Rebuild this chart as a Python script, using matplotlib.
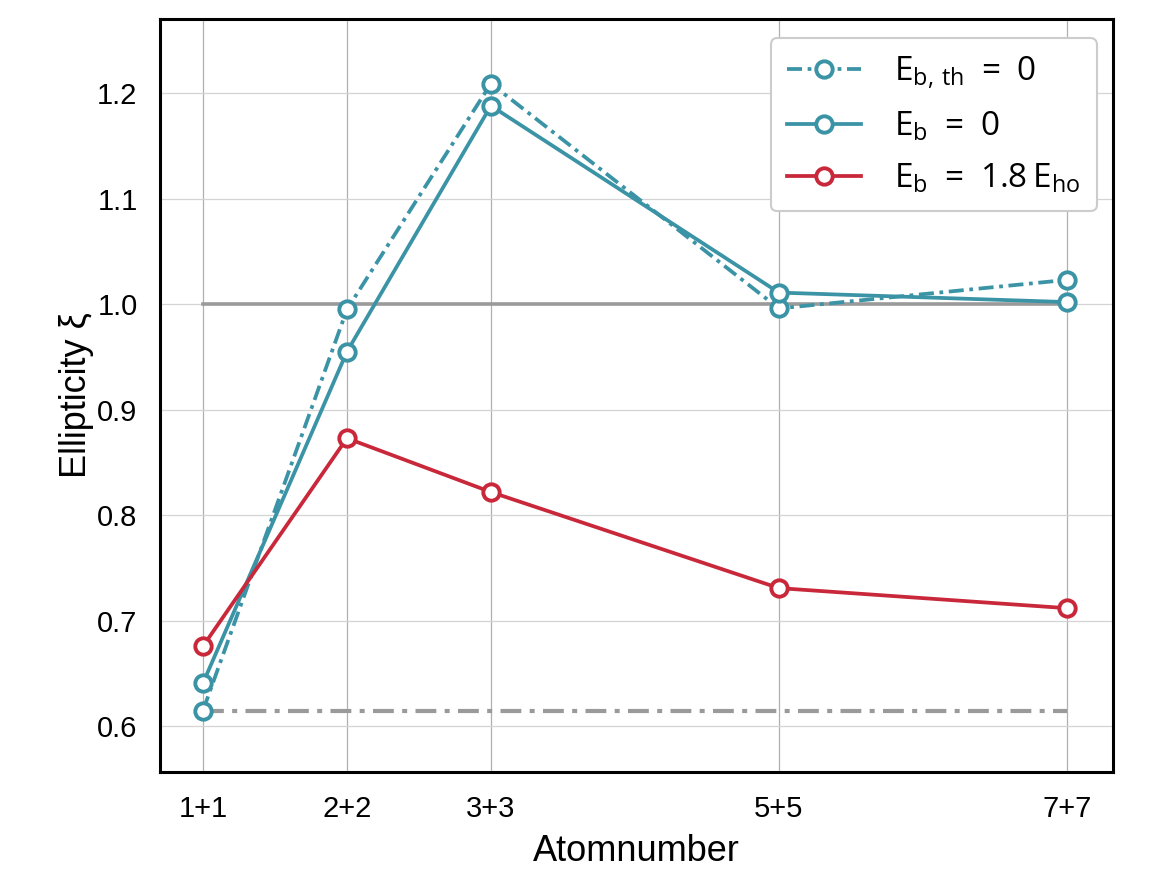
import matplotlib
matplotlib.use('Agg')
import matplotlib.pyplot as plt

# atom numbers (per spin component) and tick labels
atoms = [1, 2, 3, 5, 7]
tick_labels = ['1+1', '2+2', '3+3', '5+5', '7+7']

# ellipticity for each case
xi_th = [0.615, 0.995, 1.209, 0.996, 1.023]
xi_eb0 = [0.641, 0.955, 1.188, 1.011, 1.002]
xi_eb18 = [0.676, 0.873, 0.822, 0.731, 0.712]

# reference levels
xi_iso = 1.0
xi_limit = 0.615

teal = '#3b93a6'
red = '#c9283a'
gray = '#9a9a9a'

plt.rcParams['font.family'] = ['Liberation Sans', 'DejaVu Sans']
plt.rcParams['mathtext.fontset'] = 'custom'
plt.rcParams['mathtext.rm'] = 'Open Sans'
plt.rcParams['mathtext.it'] = 'Open Sans'

fig = plt.figure(figsize=(11.58, 8.74), dpi=100)
ax = fig.add_axes([0.138, 0.117, 0.823, 0.861])

ax.plot([atoms[0], atoms[-1]], [xi_iso, xi_iso], color=gray, lw=2.6, zorder=2)
ax.plot([atoms[0], atoms[-1]], [xi_limit, xi_limit], color=gray, lw=3.0,
        linestyle=(0, (5, 2, 1.2, 2)), zorder=2)

mk = dict(marker='o', markersize=11.8, markerfacecolor='white', markeredgewidth=2.8, zorder=3)
ax.plot(atoms, xi_th, color=teal, lw=2.7, linestyle=(0, (4, 1.5, 1, 1.5)),
        label=r'$\mathrm{E_{b,\,th}\ =\ 0}$', **mk)
ax.plot(atoms, xi_eb0, color=teal, lw=2.7, linestyle='-',
        label=r'$\mathrm{E_{b}\ =\ 0}$', **mk)
ax.plot(atoms, xi_eb18, color=red, lw=2.7, linestyle='-',
        label=r'$\mathrm{E_{b}\ =\ 1.8\,E_{ho}}$', **mk)

ax.set_xlim(0.7, 7.32)
ax.set_ylim(0.557, 1.27)
ax.set_xticks(atoms)
ax.set_xticklabels(tick_labels)
ax.set_yticks([0.6, 0.7, 0.8, 0.9, 1.0, 1.1, 1.2])
ax.tick_params(labelsize=21, length=0)
ax.tick_params(axis='x', pad=17)
ax.tick_params(axis='y', pad=16)

ax.grid(True, axis='x', color='#b0b0b0', lw=0.9)
ax.grid(True, axis='y', color='#d4d4d4', lw=0.9)
ax.set_axisbelow(True)
for s in ax.spines.values():
    s.set_linewidth(2.2)
    s.set_color('black')

ax.set_xlabel('Atomnumber', fontsize=26, labelpad=8)
ax.set_ylabel('Ellipticity ξ', fontsize=26, labelpad=2)

leg = ax.legend(loc='upper right', fontsize=24, framealpha=1, edgecolor='#cccccc',
                handlelength=2.2, handletextpad=1.0, borderpad=0.5, labelspacing=0.55,
                borderaxespad=0, bbox_to_anchor=(0.983, 0.975))
leg.get_frame().set_linewidth(1.5)

plt.savefig('out.png', dpi=100)
